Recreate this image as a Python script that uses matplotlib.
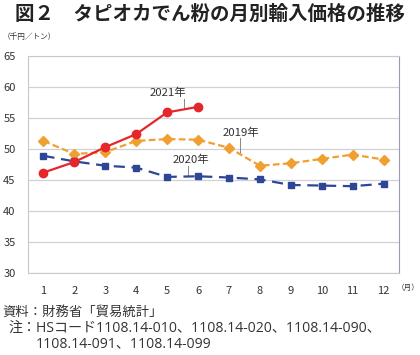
import matplotlib.pyplot as plt

plt.rcParams['font.family'] = ['Noto Sans CJK JP', 'DejaVu Sans']

months = list(range(1, 13))
price_2019 = [51.3, 49.2, 49.5, 51.3, 51.6, 51.5, 50.2, 47.3, 47.7, 48.4, 49.1, 48.3]
price_2020 = [48.9, 48.0, 47.3, 47.0, 45.5, 45.6, 45.4, 45.1, 44.2, 44.1, 44.0, 44.4]
price_2021 = [46.2, 47.9, 50.3, 52.4, 55.9, 56.8]

COLOR_2019 = '#F0A030'
COLOR_2020 = '#2E4696'
COLOR_2021 = '#E5262B'
COLOR_GRID = '#D0D0D8'
COLOR_TEXT = '#333333'
COLOR_LEADER = '#888888'

fig = plt.figure(figsize=(4.2, 3.55), dpi=100)
ax = fig.add_axes([28 / 420, 1 - 273 / 355, (399 - 28) / 420, (273 - 56) / 355])

ax.plot(months, price_2019, color=COLOR_2019, linestyle=(0, (3, 1.5)), lw=1.6,
        marker='D', ms=5, zorder=3)
ax.plot(months, price_2020, color=COLOR_2020, linestyle=(0, (5, 3)), lw=1.6,
        marker='s', ms=5, zorder=3)
ax.plot(months[:len(price_2021)], price_2021, color=COLOR_2021, lw=1.6,
        marker='o', ms=6, zorder=4)

# series labels with short leader lines
labels = [
    ('2021年', 5.02, 58.2, 5.55, 56.4),
    ('2019年', 7.39, 51.8, 7.37, 49.2),
    ('2020年', 5.77, 47.4, 5.68, 45.6),
]
for text, tx, ty, lx, ly in labels:
    ax.text(tx, ty, text, fontsize=8.2, color=COLOR_TEXT, ha='center', va='bottom')
    ax.plot([lx, lx], [ty - 0.1, ly], color=COLOR_LEADER, lw=0.7, zorder=2)

ax.set_xlim(0.5, 12.5)
ax.set_ylim(30, 65)
ax.set_xticks(months)
ax.set_yticks(range(30, 66, 5))
ax.tick_params(length=0, labelsize=8, colors=COLOR_TEXT)
ax.tick_params(axis='x', pad=9)
ax.tick_params(axis='y', pad=9)

ax.grid(axis='y', color=COLOR_GRID, lw=0.9)
ax.set_axisbelow(True)
for side in ['left', 'bottom', 'top']:
    ax.spines[side].set_color('#C8C8D0')
ax.spines['right'].set_color('#9A9AB8')

fig.text(15 / 420, 1 - 14 / 355, '図２　タピオカでん粉の月別輸入価格の推移', fontsize=14,
         fontweight='bold', va='center', color='#222222')
fig.text(3 / 420, 1 - 37 / 355, '（千円／トン）', fontsize=5.5, va='center', color=COLOR_TEXT)
fig.text(397 / 420, 1 - 288 / 355, '（月）', fontsize=5.5, va='center', color=COLOR_TEXT)

note_font = ['Open Sans', 'Noto Sans CJK JP']
fig.text(2 / 420, 1 - 312 / 355, '資料：財務省「貿易統計」', fontsize=9.6, va='center', color=COLOR_TEXT)
fig.text(8 / 420, 1 - 328 / 355, '注：HSコード1108.14-010、1108.14-020、1108.14-090、',
         fontsize=10.1, va='center', color=COLOR_TEXT, family=note_font)
fig.text(36 / 420, 1 - 344 / 355, '1108.14-091、1108.14-099', fontsize=10.1, va='center',
         color=COLOR_TEXT, family=note_font)

fig.savefig('out.png', dpi=100)
